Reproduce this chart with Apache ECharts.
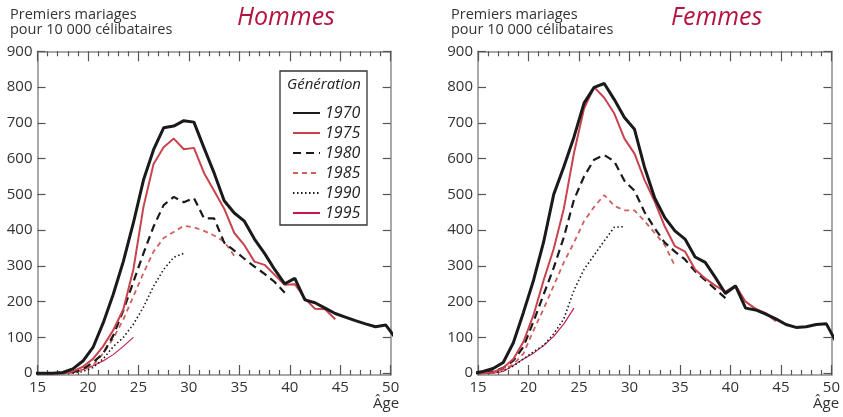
<!DOCTYPE html>
<html>
<head>
<meta charset="utf-8">
<script src="https://cdn.jsdelivr.net/npm/echarts@6/dist/echarts.min.js"></script>
<style>
  html, body { margin: 0; padding: 0; background: #fff; }
  #chart { width: 843px; height: 417px; }
</style>
</head>
<body>
<div id="chart"></div>
<script>
// âges (milieu d'année) pour les taux de primo-nuptialité
var ages = [14.5, 15.5, 16.5, 17.5, 18.5, 19.5, 20.5, 21.5, 22.5, 23.5, 24.5, 25.5, 26.5,
  27.5, 28.5, 29.5, 30.5, 31.5, 32.5, 33.5, 34.5, 35.5, 36.5, 37.5, 38.5, 39.5, 40.5,
  41.5, 42.5, 43.5, 44.5, 45.5, 46.5, 47.5, 48.5, 49.5, 50.5];
var generations = ['1970', '1975', '1980', '1985', '1990', '1995'];
var yTicks = [0, 100, 200, 300, 400, 500, 600, 700, 800, 900];

// Hommes
var h1970 = [0, 0, 0, 2, 12, 34, 72, 140, 220, 312, 420, 540, 625, 686, 691, 706, 702, 630, 560, 482,
  448, 425, 375, 335, 290, 250, 265, 205, 197, 182, 167, 157, 147, 138, 130, 135, 97];
var h1975 = [0, 0, 0, 0, 5, 18, 40, 75, 120, 178, 290, 465, 585, 632, 656, 626, 630, 560, 510, 460,
  392, 358, 312, 303, 275, 247, 249, 209, 180, 179, 151];
var h1980 = [0, 0, 0, 0, 3, 12, 30, 55, 105, 175, 255, 335, 410, 470, 493, 478, 490, 433, 433, 365,
  343, 320, 298, 278, 255, 225];
var h1985 = [0, 0, 0, 0, 2, 8, 22, 55, 97, 150, 215, 280, 340, 378, 395, 412, 408, 398, 385, 368, 328];
var h1990 = [0, 0, 0, 0, 0, 5, 16, 40, 74, 100, 137, 185, 243, 290, 324, 335];
var h1995 = [0, 0, 0, 0, 3, 10, 21, 34, 52, 75, 100];

// Femmes
var f1970 = [0, 5, 13, 30, 85, 170, 260, 367, 500, 577, 660, 755, 799, 810, 765, 715, 682, 575, 490,
  435, 398, 375, 325, 310, 268, 223, 244, 182, 177, 165, 152, 136, 128, 130, 136, 138, 85];
var f1975 = [0, 0, 3, 15, 40, 88, 163, 260, 348, 460, 615, 740, 800, 770, 726, 656, 614, 540, 480,
  410, 355, 340, 290, 265, 245, 228, 245, 200, 180, 168, 145];
var f1980 = [0, 0, 5, 15, 35, 74, 145, 220, 295, 380, 485, 550, 597, 610, 592, 538, 510, 450, 405,
  365, 340, 318, 285, 260, 235, 210];
var f1985 = [0, 0, 3, 10, 25, 55, 120, 180, 245, 310, 365, 425, 465, 498, 468, 455, 455, 425, 392, 358, 300];
var f1990 = [0, 0, 2, 8, 20, 40, 60, 78, 110, 152, 232, 290, 330, 370, 408, 410];
var f1995 = [0, 0, 0, 5, 22, 40, 56, 77, 103, 138, 182];

var FONT = '"Open Sans", "Noto Sans", sans-serif';

var styles = {
  '1970': { color: '#1a1a1a', width: 3, type: 'solid' },
  '1975': { color: '#c8434e', width: 2, type: 'solid' },
  '1980': { color: '#1a1a1a', width: 2.2, type: [8, 5] },
  '1985': { color: '#d0605e', width: 1.8, type: [5, 4] },
  '1990': { color: '#1a1a1a', width: 1.6, type: [1.5, 2.5] },
  '1995': { color: '#c2184c', width: 1.1, type: 'solid' }
};

function pairs(vals) {
  return vals.map(function (v, i) { return [ages[i], v]; });
}

function xAxes(gridIndex) {
  var base = {
    type: 'value', gridIndex: gridIndex, min: 15, max: 50, interval: 5,
    axisLine: { show: true, onZero: false, lineStyle: { color: '#8c8c8c', width: 1.5 } },
    axisTick: { show: true, inside: true, length: 10, lineStyle: { color: '#555', width: 1.2 } },
    minorTick: { show: true, splitNumber: 5, length: 5, lineStyle: { color: '#555', width: 1.2 } },
    splitLine: { show: false },
    axisLabel: { color: '#333', fontSize: 15, margin: 5, fontFamily: FONT }
  };
  var top = echarts.util.merge({ position: 'top', axisLabel: { show: false } }, base);
  return [echarts.util.merge({ position: 'bottom' }, base), top];
}

function yAxes(gridIndex) {
  var base = {
    type: 'value', gridIndex: gridIndex, min: -5, max: 900,
    axisLine: { show: true, onZero: false, lineStyle: { color: '#8c8c8c', width: 1.5 } },
    axisTick: { show: true, inside: true, length: 8, customValues: yTicks, lineStyle: { color: '#555', width: 1.2 } },
    splitLine: { show: false },
    axisLabel: { color: '#333', fontSize: 15, margin: 5, fontFamily: FONT, customValues: yTicks }
  };
  var right = echarts.util.merge({ position: 'right', axisLabel: { show: false } }, base);
  return [echarts.util.merge({ position: 'left' }, base), right];
}

function makeSeries(list, axisIndex) {
  // 1995 d'abord, 1970 dessinée en dernier (au-dessus)
  var out = [];
  for (var i = list.length - 1; i >= 0; i--) {
    var name = generations[i], st = styles[name];
    out.push({
      name: name, type: 'line', xAxisIndex: axisIndex, yAxisIndex: axisIndex,
      symbol: 'none', showSymbol: false, animation: false,
      lineStyle: { color: st.color, width: st.width, type: st.type },
      itemStyle: { color: st.color },
      data: pairs(list[i])
    });
  }
  return out;
}

var chart = echarts.init(document.getElementById('chart'));
var titleStyle = { fontSize: 14.5, fontWeight: 'normal', color: '#333', lineHeight: 14.5, fontFamily: FONT };
var option = {
  backgroundColor: '#fff',
  animation: false,
  title: [
    { text: 'Premiers mariages\npour 10 000 célibataires', left: 5, top: 3, textStyle: titleStyle },
    { text: 'Premiers mariages\npour 10 000 célibataires', left: 446, top: 3, textStyle: titleStyle },
    { text: 'Hommes', left: 232, top: 0,
      textStyle: { fontSize: 25, fontStyle: 'italic', fontWeight: 'normal', color: '#b5133f', fontFamily: FONT } },
    { text: 'Femmes', left: 666, top: 0,
      textStyle: { fontSize: 25, fontStyle: 'italic', fontWeight: 'normal', color: '#b5133f', fontFamily: FONT } }
  ],
  grid: [
    { left: 37.5, top: 51.3, width: 353.2, height: 323.7 },
    { left: 478, top: 51.3, width: 354, height: 323.7 }
  ],
  xAxis: xAxes(0).concat(xAxes(1)),
  yAxis: yAxes(0).concat(yAxes(1)),
  legend: {
    data: generations, orient: 'vertical', left: 287, top: 100,
    itemWidth: 27, itemHeight: 14, itemGap: 4, selectedMode: false, z: 10,
    itemStyle: { opacity: 0 },
    textStyle: { fontSize: 16, lineHeight: 14, fontStyle: 'italic', color: '#222', fontFamily: FONT }
  },
  graphic: [
    { type: 'rect', z: 5, shape: { x: 280, y: 71, width: 87, height: 154 },
      style: { fill: '#fff', stroke: '#333', lineWidth: 1.3 } },
    { type: 'text', z: 6, left: 287, top: 77,
      style: { text: 'Génération', fontSize: 15, fontStyle: 'italic', fill: '#222', fontFamily: FONT } },
    { type: 'text', left: 373, top: 396,
      style: { text: 'Âge', fontSize: 15, fill: '#333', fontFamily: FONT } },
    { type: 'text', left: 813, top: 396,
      style: { text: 'Âge', fontSize: 15, fill: '#333', fontFamily: FONT } }
  ],
  series: makeSeries([h1970, h1975, h1980, h1985, h1990, h1995], 0)
    .concat(makeSeries([f1970, f1975, f1980, f1985, f1990, f1995], 2))
};
chart.setOption(option);
window.addEventListener('resize', function () { chart.resize(); });
</script>
</body>
</html>
